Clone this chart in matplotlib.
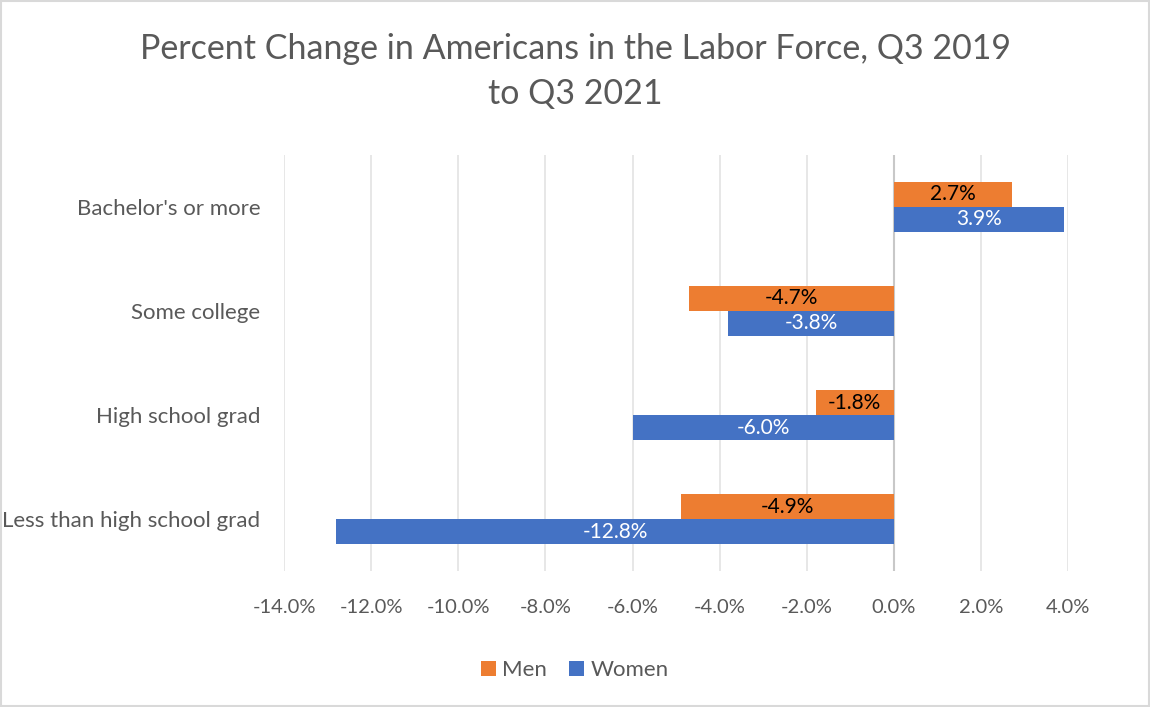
import matplotlib.pyplot as plt
import numpy as np
from matplotlib.patches import Rectangle

# Data
categories = ["Less than high school grad", "High school grad", "Some college", "Bachelor's or more"]
men = [-4.9, -1.8, -4.7, 2.7]
women = [-12.8, -6.0, -3.8, 3.9]
xticks = [-14, -12, -10, -8, -6, -4, -2, 0, 2, 4]

plt.rcParams['font.family'] = ['Lato', 'DejaVu Sans']
grey = '#595959'
orange = '#ED7D31'
blue = '#4472C4'

fig = plt.figure(figsize=(11.5, 7.07), dpi=100)
ax = fig.add_axes([0.247, 0.192, 0.682, 0.589])

y = np.arange(len(categories))
h = 0.24
bm = ax.barh(y + h / 2, men, height=h, color=orange, label='Men', zorder=3)
bw = ax.barh(y - h / 2, women, height=h, color=blue, label='Women', zorder=3)

# data labels in the middle of each bar
for bars, col in [(bm, 'black'), (bw, 'white')]:
    for b in bars:
        v = b.get_width()
        ax.text(b.get_x() + v / 2, b.get_y() + b.get_height() / 2, f"{v:.1f}%",
                ha='center', va='center', color=col, fontsize=15, zorder=4)

ax.set_xlim(-14, 4)
ax.set_ylim(-0.5, len(categories) - 0.5)
ax.set_xticks(xticks)
ax.set_xticklabels([f"{t:.1f}%" for t in xticks])
ax.set_yticks(y)
ax.set_yticklabels(categories)
ax.tick_params(axis='both', length=0, colors=grey)
ax.tick_params(axis='x', pad=20, labelsize=14.5)
ax.tick_params(axis='y', pad=17, labelsize=16)
ax.grid(axis='x', color='#e3e3e3', linewidth=1.2, zorder=0)
ax.axvline(0, color='#c8c8c8', linewidth=1.5, zorder=2)
for s in ax.spines.values():
    s.set_visible(False)

fig.suptitle("Percent Change in Americans in the Labor Force, Q3 2019\nto Q3 2021",
             y=0.953, fontsize=24.5, color=grey, linespacing=1.5)

handles, labels = ax.get_legend_handles_labels()
fig.legend(handles, labels, loc='center', bbox_to_anchor=(0.5, 0.052), ncol=2,
           frameon=False, fontsize=16, labelcolor=grey, handlelength=0.65,
           handleheight=0.65, handletextpad=0.3, columnspacing=1.0)

fig.patches.append(Rectangle((0.001, 0.001), 0.998, 0.998, transform=fig.transFigure,
                             fill=False, edgecolor='#d9d9d9', linewidth=1.5))

fig.savefig('out.png', dpi=100, facecolor='white')
